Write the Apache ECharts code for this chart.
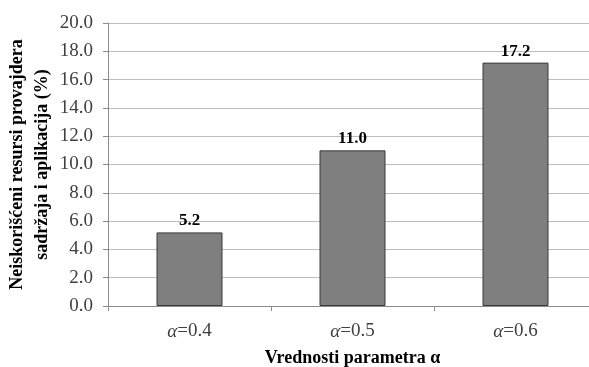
<!DOCTYPE html>
<html>
<head>
<meta charset="utf-8">
<script src="https://cdn.jsdelivr.net/npm/echarts@6/dist/echarts.min.js"></script>
<style>
  html, body { margin: 0; padding: 0; background: #fff; }
  #chart { width: 589px; height: 367px; }
</style>
</head>
<body>
<div id="chart"></div>
<script>
// Unused provider resources for each value of the alpha parameter
const categories = ['0.4', '0.5', '0.6'];
const values = [5.2, 11.0, 17.2];
const yTicks = { min: 0, max: 20, interval: 2 };

const serif = '"Liberation Serif", "Times New Roman", serif';

const chart = echarts.init(document.getElementById('chart'), null, { renderer: 'canvas' });
chart.setOption({
  animation: false,
  backgroundColor: '#ffffff',
  grid: { left: 108, right: -8, top: 23, bottom: 61, containLabel: false, outerBoundsMode: 'none' },
  xAxis: {
    type: 'category',
    data: categories,
    name: 'Vrednosti parametra α',
    nameLocation: 'middle',
    nameGap: 43,
    nameMoveOverlap: false,
    nameTextStyle: { fontFamily: serif, fontWeight: 'bold', fontSize: 18, color: '#000' },
    axisLine: { lineStyle: { color: '#8c8c8c', width: 1 } },
    axisTick: { show: true, length: 5, lineStyle: { color: '#8c8c8c' } },
    axisLabel: {
      margin: 16,
      formatter: v => '{a|α}{n|=' + v + '}',
      rich: {
        a: { fontFamily: serif, fontStyle: 'italic', fontSize: 19, color: '#404040' },
        n: { fontFamily: serif, fontSize: 19, color: '#404040' }
      }
    }
  },
  yAxis: {
    type: 'value',
    min: yTicks.min,
    max: yTicks.max,
    interval: yTicks.interval,
    name: 'Neiskorišćeni resursi provajdera\nsadržaja i aplikacija (%)',
    nameLocation: 'middle',
    nameGap: 53,
    nameMoveOverlap: false,
    nameRotate: 90,
    nameTextStyle: { fontFamily: serif, fontWeight: 'bold', fontSize: 18, color: '#000', lineHeight: 25 },
    axisLine: { show: true, lineStyle: { color: '#8c8c8c', width: 1 } },
    axisTick: { show: true, length: 5, lineStyle: { color: '#8c8c8c' } },
    axisLabel: {
      margin: 15,
      fontFamily: serif,
      fontSize: 19,
      color: '#404040',
      formatter: v => v.toFixed(1)
    },
    splitLine: { show: true, lineStyle: { color: '#bdbdbd', width: 1 } }
  },
  series: [{
    type: 'bar',
    data: values,
    barWidth: 66,
    itemStyle: { color: '#7f7f7f', borderColor: '#3a3a3a', borderWidth: 1 },
    label: {
      show: true,
      position: 'top',
      distance: 3,
      fontFamily: serif,
      fontWeight: 'bold',
      fontSize: 17,
      color: '#000',
      formatter: p => p.value.toFixed(1)
    }
  }]
});
</script>
</body>
</html>
